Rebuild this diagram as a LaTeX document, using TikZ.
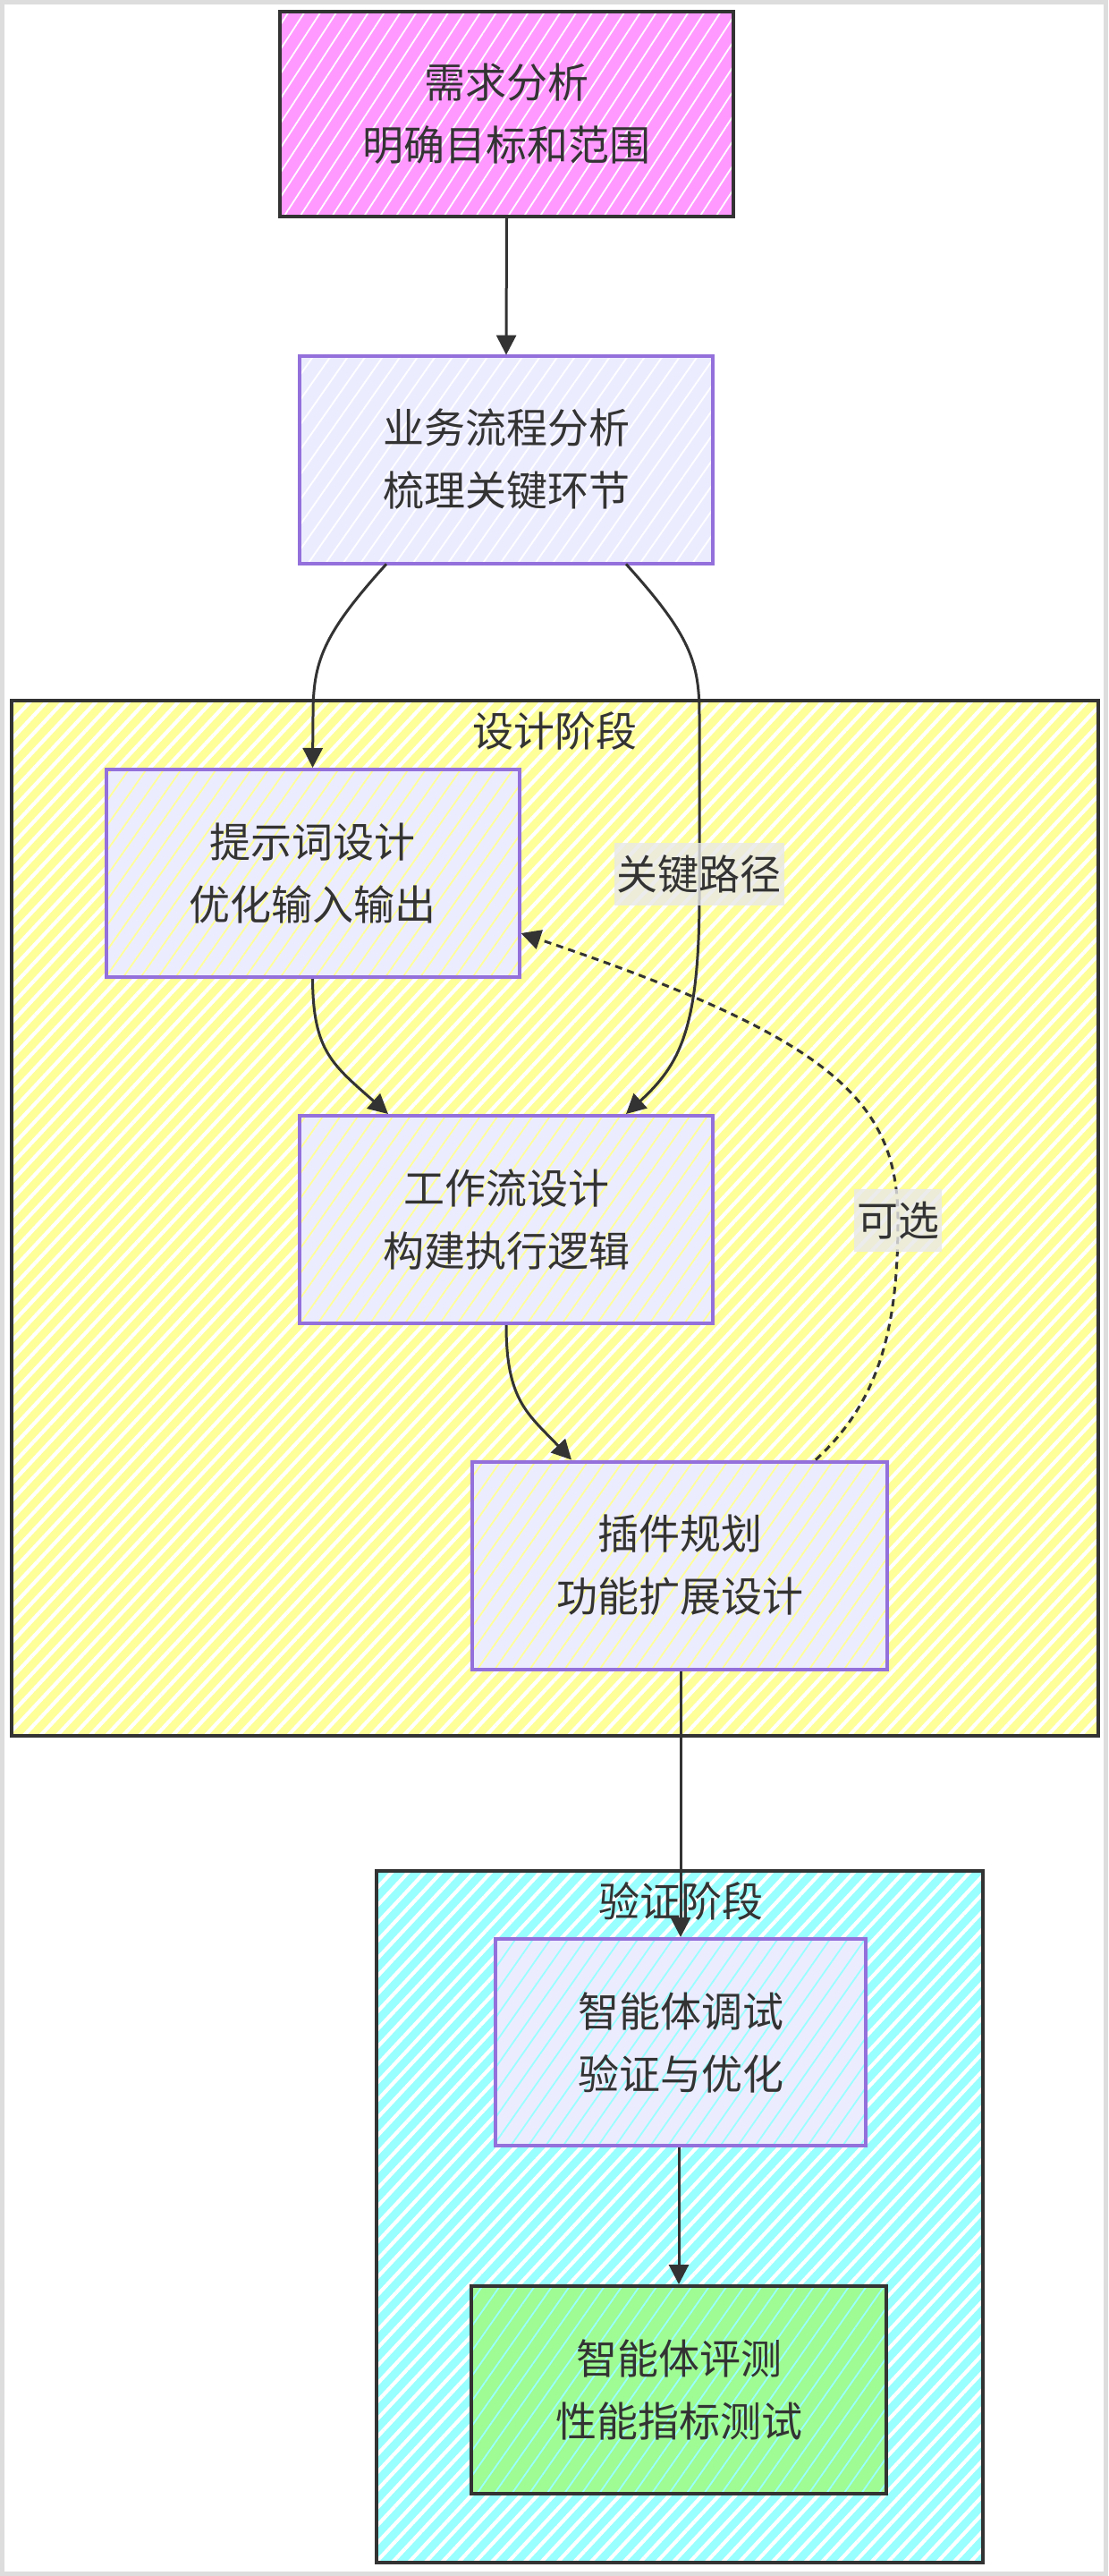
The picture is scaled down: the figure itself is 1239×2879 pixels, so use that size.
\documentclass[tikz,border=0pt]{standalone}
\usepackage{fontspec}
\setmainfont{Noto Sans CJK SC}
\usetikzlibrary{arrows.meta,patterns.meta,calc}
\definecolor{ink}{HTML}{333333}
\definecolor{magfill}{HTML}{FF99FF}
\definecolor{lavfill}{HTML}{ECECFF}
\definecolor{lavline}{HTML}{9370DB}
\definecolor{yelfill}{HTML}{FFFF99}
\definecolor{cyanfill}{HTML}{99FFFF}
\definecolor{grnfill}{HTML}{9FFB93}
\definecolor{lblbg}{HTML}{E8E8E8}
\definecolor{framegray}{HTML}{DDDDDD}
\begin{document}
\begin{tikzpicture}[x=1pt,y=-1pt,
  txt/.style={font=\fontsize{46}{70}\selectfont, text=ink, align=center},
  bighatch/.style={preaction={fill=#1}, pattern={Lines[angle=47,distance=13.5pt,line width=4.2pt]}, pattern color=white},
  maghatch/.style={preaction={fill=#1}, pattern={Lines[angle=57,distance=15pt,line width=1.8pt]}, pattern color=white},
  smallhatch/.style 2 args={preaction={fill=#1}, pattern={Lines[angle=55,distance=16pt,line width=1.8pt]}, pattern color=#2},
  cluster/.style={draw=ink, line width=4pt, inner sep=0pt},
  proc/.style={txt, draw=lavline, line width=4pt, inner sep=0pt, minimum width=462pt, minimum height=232pt},
  darkbox/.style={txt, draw=ink, line width=4pt, inner sep=0pt, minimum height=232pt},
  title/.style={txt},
  conn/.style={draw=ink, line width=3pt, -{Triangle[length=22pt,width=22pt]}},
  optconn/.style={conn, dash pattern=on 8pt off 6pt},
  lbl/.style={txt, fill=lblbg, fill opacity=0.8, text opacity=1, inner xsep=3pt, inner ysep=0pt, minimum height=70pt}
]
\useasboundingbox (0,0) rectangle (1239,2879);
\fill[white] (0,0) rectangle (1239,2879);
\draw[framegray, line width=5pt] (2.5,2.5) rectangle (1236.5,2876.5);

% subgraphs
\node[cluster, bighatch=yelfill, minimum width=1215pt, minimum height=1157pt] (design) at (620.5,1361.5) {};
\node[title] (designt) at (620,817) {设计阶段};
\node[cluster, bighatch=cyanfill, minimum width=678pt, minimum height=773pt] (verify) at (760,2477.5) {};
\node[title] (verifyt) at (761,2125) {验证阶段};

% nodes
\node[darkbox, maghatch=magfill, minimum width=507pt, minimum height=229pt] (A) at (566.5,127.5) {需求分析\\明确目标和范围};
\node[proc, smallhatch={lavfill}{white}] (B) at (566,513.5) {业务流程分析\\梳理关键环节};
\node[proc, smallhatch={lavfill}{yelfill}] (C) at (349.5,976) {提示词设计\\优化输入输出};
\node[proc, smallhatch={lavfill}{yelfill}] (D) at (566,1363) {工作流设计\\构建执行逻辑};
\node[proc, smallhatch={lavfill}{yelfill}, minimum width=464pt] (E) at (760,1749.5) {插件规划\\功能扩展设计};
\node[proc, smallhatch={lavfill}{cyanfill}, minimum width=414pt, minimum height=231pt] (F) at (761,2282.5) {智能体调试\\验证与优化};
\node[darkbox, smallhatch={grnfill}{cyanfill}, minimum width=464pt] (G) at (759,2671) {智能体评测\\性能指标测试};

% connectors
\draw[conn] (A.south) -- (B.north);
\draw[conn] ([xshift=-134pt]B.south) .. controls (360,710) and (350,740) .. (350,800) -- (C.north);
\draw[conn] ([xshift=134pt]B.south) .. controls (772,710) and (782,740) .. (782,800) -- (782,1000)
  .. controls (782,1150) and (760,1190) .. ([xshift=134pt]D.north);
\draw[conn] (C.south) .. controls (350,1175) and (372,1190) .. ([xshift=-132pt]D.north);
\draw[conn] (D.south) .. controls (566,1565) and (590,1580) .. ([xshift=-121pt]E.north);
\draw[optconn] ([xshift=152pt]E.north) .. controls (985,1565) and (1004,1480) .. (1004,1364)
  .. controls (1004,1230) and (930,1160) .. ([yshift=-67pt]C.east);
\draw[conn] (E.south -| F.north) -- (F.north);
\draw[conn] (F.south -| G.north) -- (G.north);

% connector labels
\node[lbl] (l1) at (781.5,977) {关键路径};
\node[lbl] (l2) at (1004,1364) {可选};
\end{tikzpicture}
\end{document}
